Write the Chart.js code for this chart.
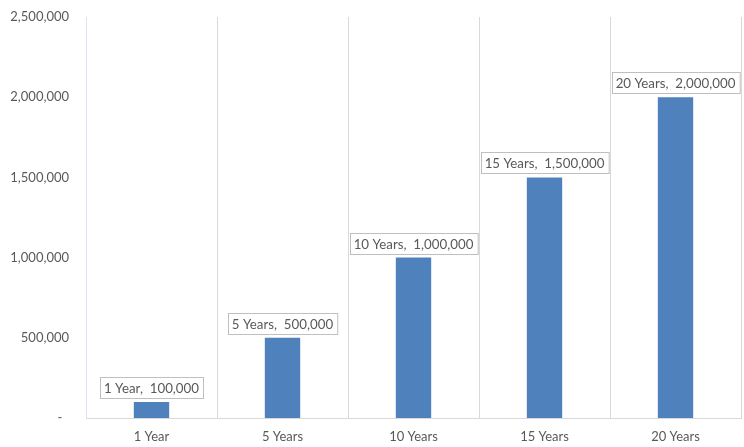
<!DOCTYPE html>
<html>
<head>
<meta charset="utf-8">
<script src="https://cdn.jsdelivr.net/npm/chart.js@4/dist/chart.umd.min.js"></script>
<style>
html,body{margin:0;padding:0;background:#fff;}
#wrap{width:744px;height:447px;position:relative;}
</style>
</head>
<body>
<div id="wrap"><canvas id="c" width="744" height="447"></canvas></div>
<script>
const categories = ['1 Year', '5 Years', '10 Years', '15 Years', '20 Years'];
const values = [100000, 500000, 1000000, 1500000, 2000000];
const yTicks = [0, 500000, 1000000, 1500000, 2000000, 2500000];

const FONT = 'Lato, "Liberation Sans", sans-serif';
const fmt = v => v.toLocaleString('en-US');

const labelPlugin = {
  id: 'boxLabels',
  afterDatasetsDraw(chart) {
    const ctx = chart.ctx;
    const meta = chart.getDatasetMeta(0);
    ctx.save();
    ctx.font = '13.3px ' + FONT;
    ctx.textAlign = 'center';
    ctx.textBaseline = 'middle';
    meta.data.forEach((bar, i) => {
      const text = categories[i] + ',  ' + fmt(values[i]);
      const w = ctx.measureText(text).width + 8;
      const h = 21;
      const x = Math.round(bar.x - w / 2) + 0.5;
      const y = Math.round(bar.y - 4 - h) + 0.5;
      ctx.fillStyle = '#ffffff';
      ctx.fillRect(x, y, w, h);
      ctx.strokeStyle = '#bfbfbf';
      ctx.lineWidth = 1;
      ctx.strokeRect(x, y, w, h);
      ctx.fillStyle = '#595959';
      ctx.fillText(text, bar.x, y + h / 2 + 0.5);
    });
    ctx.restore();
  }
};

const chart = new Chart(document.getElementById('c'), {
  type: 'bar',
  data: {
    labels: categories,
    datasets: [{
      data: values,
      backgroundColor: '#4f81bd',
      borderWidth: 0,
      barPercentage: 0.27,
      categoryPercentage: 1
    }]
  },
  options: {
    responsive: false,
    animation: false,
    events: [],
    layout: { padding: { top: 17, right: 3, left: 0, bottom: 0 } },
    plugins: { legend: { display: false }, tooltip: { enabled: false } },
    scales: {
      x: {
        grid: { display: true, color: '#d9d9d9', offset: true, drawTicks: false },
        border: { display: true, color: '#d9d9d9' },
        ticks: { color: '#595959', font: { family: FONT, size: 13 }, padding: 11 },
        afterFit(s) { s.height = 29; s.paddingLeft = 0; s.paddingRight = 0; }
      },
      y: {
        min: 0, max: 2500000,
        afterBuildTicks(s) { s.ticks = yTicks.map(v => ({ value: v })); },
        grid: { display: false, drawTicks: false },
        border: { display: true, color: '#dbe5f1' },
        ticks: {
          color: '#595959',
          font: { family: FONT, size: 13 },
          padding: 17,
          callback: v => v === 0 ? '-  ' : fmt(v)
        },
        afterFit(s) { s.width = 86; s.paddingTop = 0; s.paddingBottom = 0; }
      }
    }
  },
  plugins: [labelPlugin]
});
</script>
</body>
</html>
